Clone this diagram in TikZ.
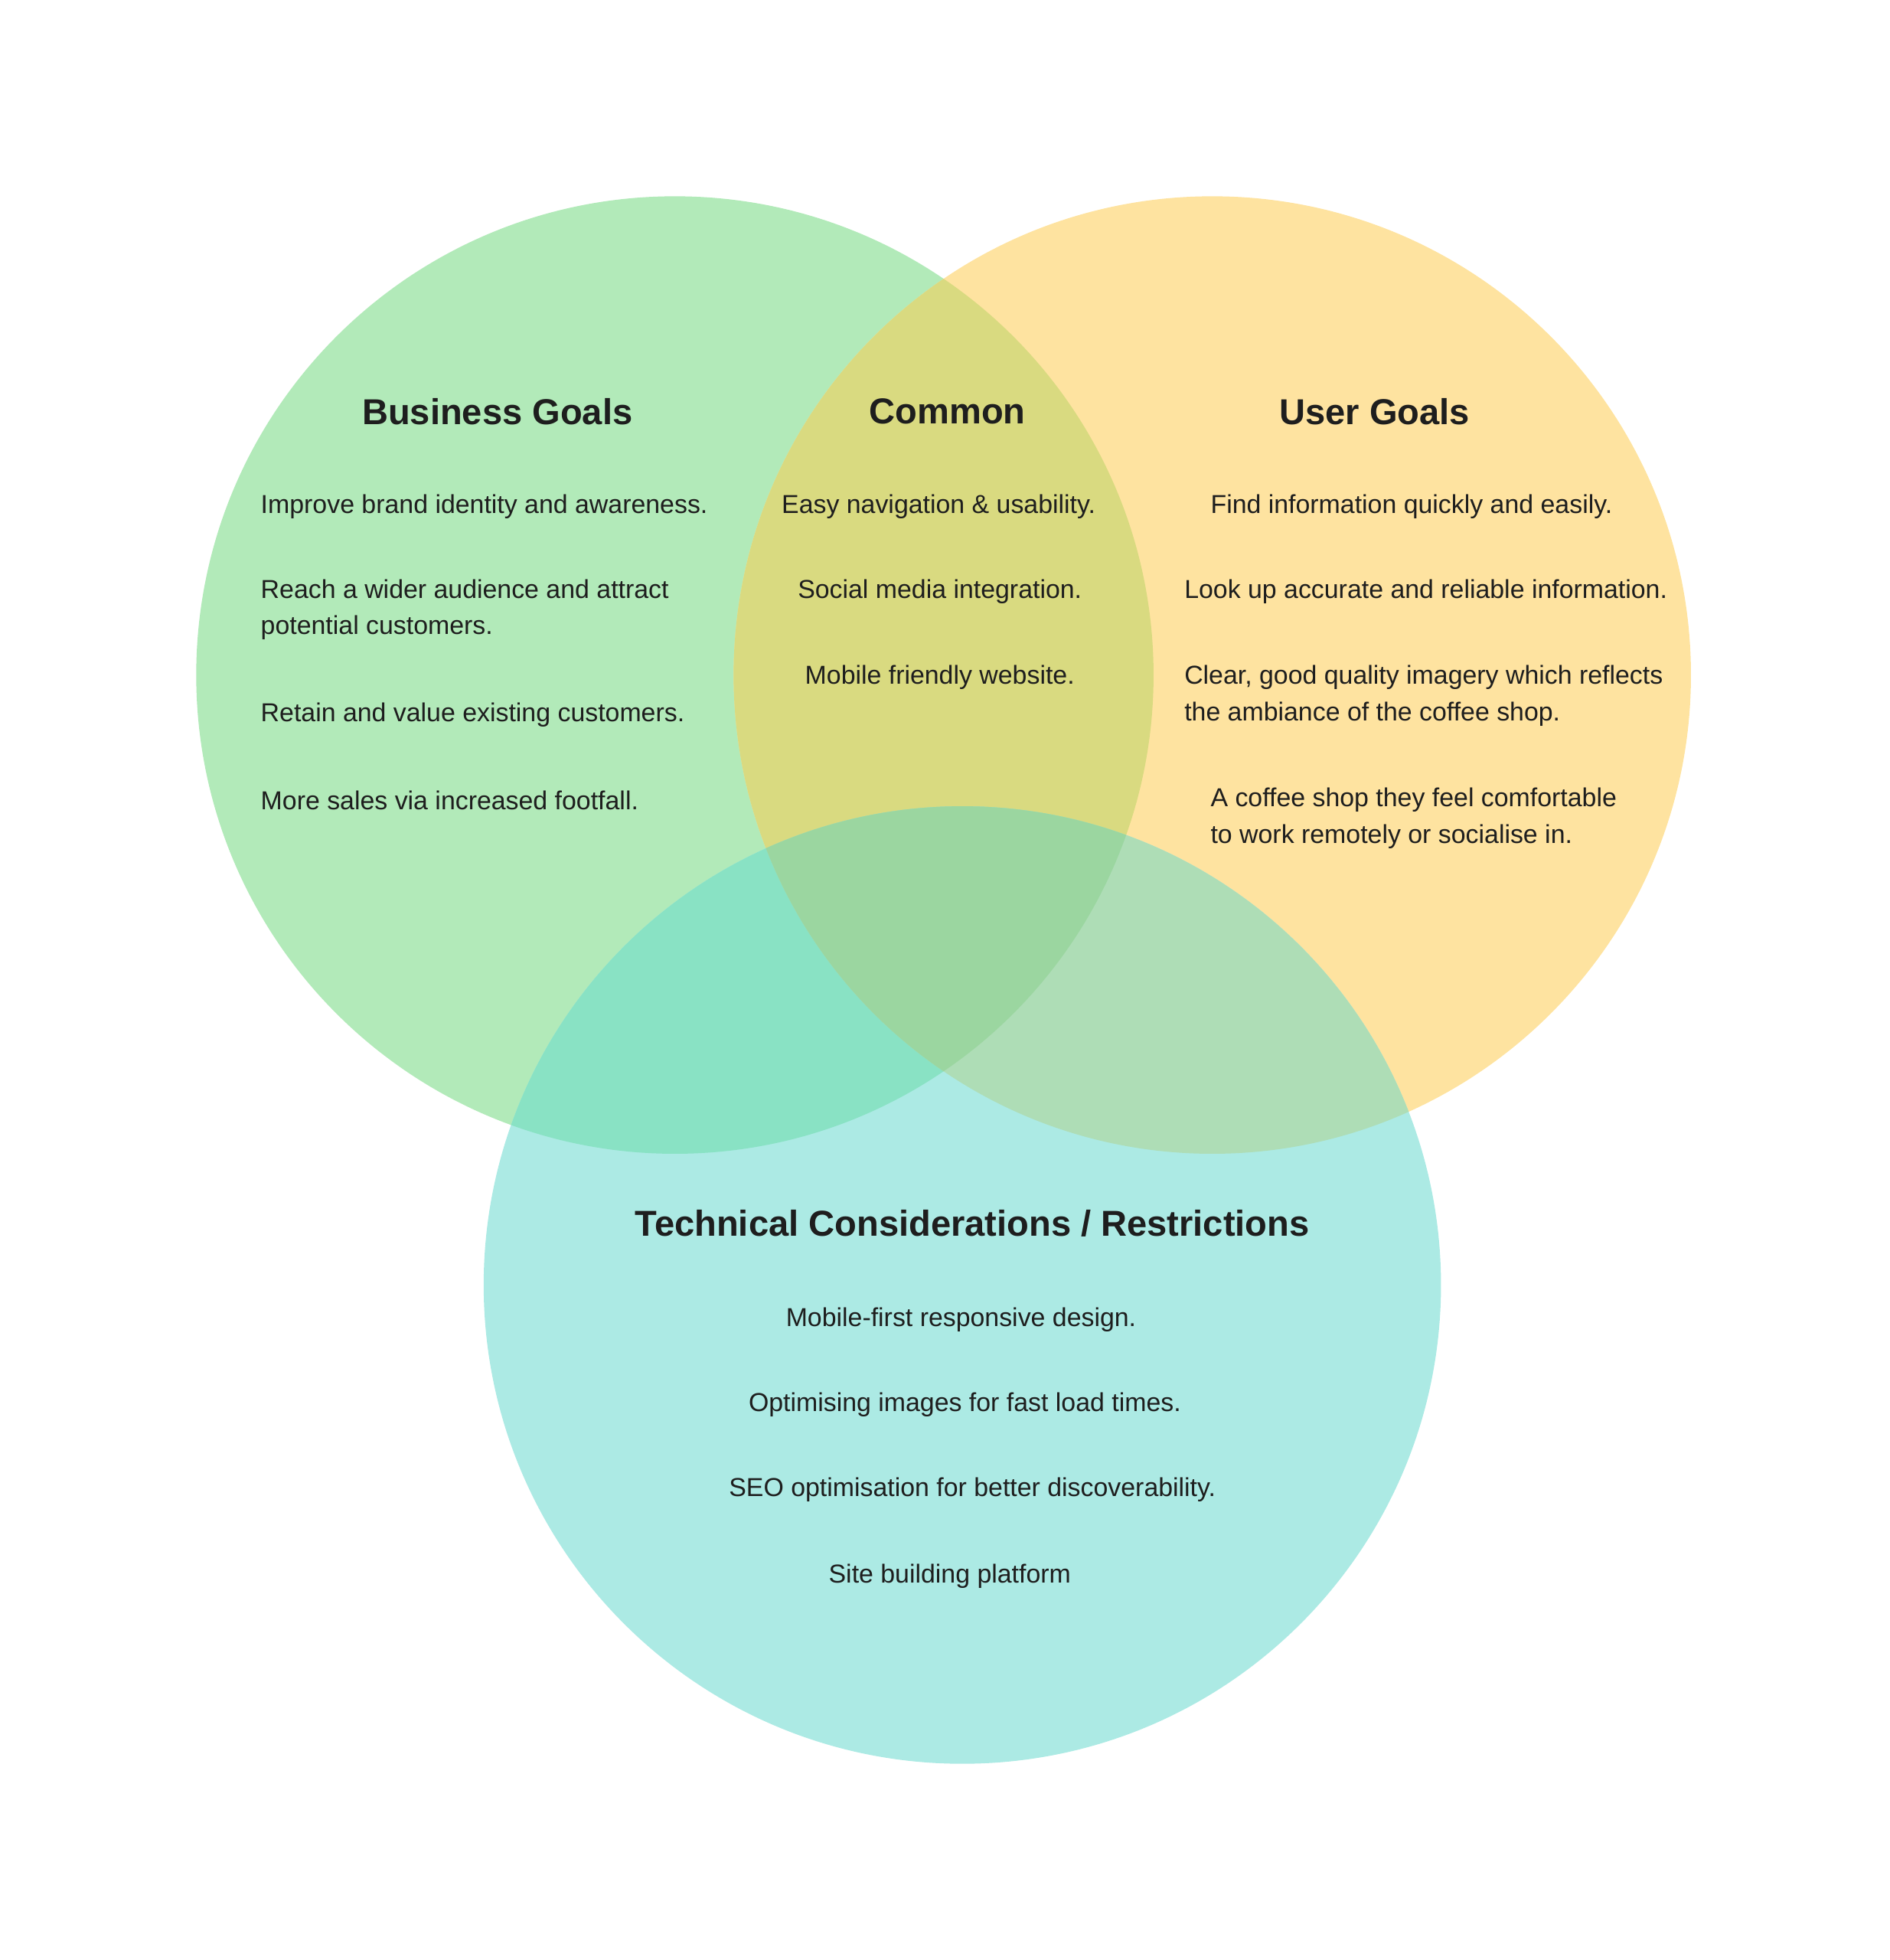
\documentclass[tikz,border=0pt]{standalone}
\usepackage{fontspec}
\setmainfont{Liberation Sans}
\usetikzlibrary{positioning}

\definecolor{bizgreen}{HTML}{B2EAB9}
\definecolor{usryellow}{HTML}{FEE3A0}
\definecolor{techcyan}{HTML}{ACEAE4}
\definecolor{bizusr}{HTML}{D9DA80}
\definecolor{biztech}{HTML}{89E2C4}
\definecolor{usrtech}{HTML}{AEDDB6}
\definecolor{allthree}{HTML}{9BD6A0}
\definecolor{ink}{HTML}{1E1E1E}

\begin{document}
\begin{tikzpicture}[x=0.01cm,y=-0.01cm,
  title/.style={font=\bfseries\fontsize{8.2pt}{9.5pt}\selectfont, text=ink, inner sep=0pt},
  item/.style={font=\fontsize{5.9pt}{8.25pt}\selectfont, text=ink, inner sep=0pt, align=left},
  citem/.style={item, align=center}]
\useasboundingbox (0,0) rectangle (1512,1568);
% the three sets
\def\bizcircle{(540,540) circle[radius=383]}
\def\usrcircle{(970,540) circle[radius=383]}
\def\techcircle{(770,1028) circle[radius=383]}
\fill[bizgreen] \bizcircle;
\fill[usryellow] \usrcircle;
\fill[techcyan] \techcircle;
\begin{scope}\clip \bizcircle; \fill[bizusr] \usrcircle; \end{scope}
\begin{scope}\clip \bizcircle; \fill[biztech] \techcircle; \end{scope}
\begin{scope}\clip \usrcircle; \fill[usrtech] \techcircle; \end{scope}
\begin{scope}\clip \bizcircle; \clip \usrcircle; \fill[allthree] \techcircle; \end{scope}

% business goals
\node[title] (bizTitle) at (398,329) {Business Goals};
\node[item, anchor=west] (biz1) at (208,405) {Improve brand identity and awareness.};
\node[item, anchor=west] (biz2) at (208,487.5) {Reach a wider audience and attract\\potential customers.};
\node[item, anchor=west] (biz3) at (208,572) {Retain and value existing customers.};
\node[item, anchor=west] (biz4) at (208,640) {More sales via increased footfall.};

% common
\node[title] (comTitle) at (758,329) {Common};
\node[citem] (com1) at (751,405) {Easy navigation \& usability.};
\node[citem] (com2) at (752,473) {Social media integration.};
\node[citem] (com3) at (752,542) {Mobile friendly website.};

% user goals
\node[title] (usrTitle) at (1100,329) {User Goals};
\node[item, anchor=west] (usr1) at (968,405) {Find information quickly and easily.};
\node[item, anchor=west] (usr2) at (947,473) {Look up accurate and reliable information.};
\node[item, anchor=west] (usr3) at (947,556.5) {Clear, good quality imagery which reflects\\the ambiance of the coffee shop.};
\node[item, anchor=west] (usr4) at (968,654.5) {A coffee shop they feel comfortable\\to work remotely or socialise in.};

% technical
\node[title] (techTitle) at (778,979) {Technical Considerations / Restrictions};
\node[citem] (tech1) at (769,1056) {Mobile-first responsive design.};
\node[citem] (tech2) at (772,1124) {Optimising images for fast load times.};
\node[citem] (tech3) at (778,1192) {SEO optimisation for better discoverability.};
\node[citem] (tech4) at (760,1261) {Site building platform};
\end{tikzpicture}
\end{document}
